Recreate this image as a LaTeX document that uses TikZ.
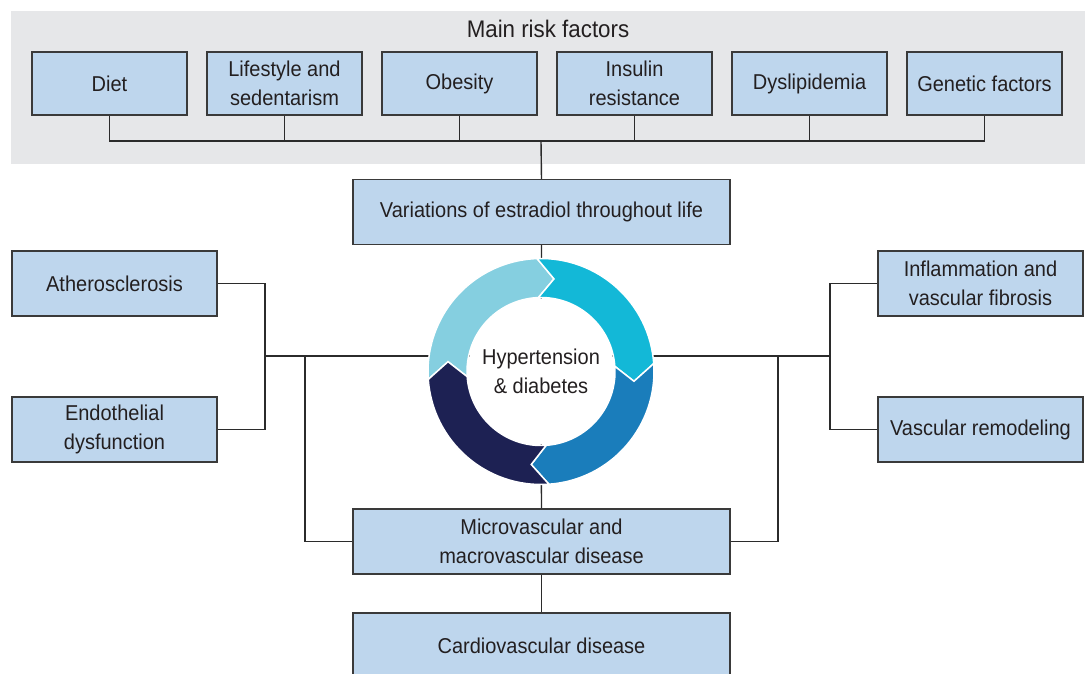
\documentclass[tikz,border=0pt]{standalone}
\usepackage{fontspec}
\setmainfont{Liberation Sans}[FakeStretch=0.93]
\usepackage{tikz}
\usetikzlibrary{positioning}

\definecolor{bggray}{HTML}{E6E7E9}
\definecolor{boxfill}{HTML}{BED6ED}
\definecolor{boxline}{HTML}{3A3A3A}
\definecolor{linkcol}{HTML}{2B2B2B}
\definecolor{txtcol}{HTML}{231F20}
\definecolor{segA}{HTML}{85CFE0}
\definecolor{segB}{HTML}{13B8D7}
\definecolor{segC}{HTML}{1A7DBB}
\definecolor{segD}{HTML}{1D2153}

\begin{document}
\begin{tikzpicture}[x=1pt,y=1pt,node distance=175pt,on grid,
        box/.style={draw=boxline, fill=boxfill, line width=1.1pt, text=txtcol,
            minimum width=155pt, minimum height=63pt, align=center,
            font=\fontsize{21.5}{28.5}\selectfont},
        widebox/.style={box, minimum width=377pt, minimum height=65pt},
        sidebox/.style={box, minimum width=205pt, minimum height=65pt},
        link/.style={draw=linkcol, line width=1.4pt}]
        \useasboundingbox (0,0) rectangle (1085,673);

        % risk factor panel
        \fill[bggray] (11,509) rectangle (1085,662);
        \node[text=txtcol, font=\fontsize{24}{28}\selectfont] (title) at (548,644) {Main risk factors};

        \node[box]  (diet)                      at (109.5,589.5) {Diet};
        \node[box]  (life)   [right=of diet]                     {Lifestyle and\\sedentarism};
        \node[box]  (obes)   [right=of life]                     {Obesity};
        \node[box]  (insul)  [right=of obes]                     {Insulin\\resistance};
        \node[box]  (dysl)   [right=of insul]                    {Dyslipidemia};
        \node[box]  (genet)  [right=of dysl]                     {Genetic factors};

        \node[widebox]  (estr)   at (541.5,461)   {Variations of estradiol throughout life};
        \node[sidebox]  (ather)  at (114.5,389.5) {Atherosclerosis};
        \node[sidebox]  (endo)   at (114.5,243.5) {Endothelial\\dysfunction};
        \node[sidebox]  (infl)   at (980.5,389.5) {Inflammation and\\vascular fibrosis};
        \node[sidebox]  (remod)  at (980.5,243.5) {Vascular remodeling};
        \node[widebox]  (micro)  at (541.5,131.5) {Microvascular and\\macrovascular disease};
        \node[widebox]  (cardio) at (541.5,27.5)  {Cardiovascular disease};

        \coordinate (bus) at (541,532);
        \coordinate (hub) at (541,301.5);
        \coordinate (lj)  at (265,317);
        \coordinate (lv)  at (305,317);
        \coordinate (rj)  at (830,317);
        \coordinate (rv)  at (778,317);

        % connectors
        \draw[link] (diet.south) -- (diet.south |- bus) -- (genet.south |- bus) -- (genet.south);
        \foreach \n in {life,obes,insul,dysl}
            \draw[link] (\n.south) -- (\n.south |- bus);
        \draw[link] (bus) -- (estr.north);
        \draw[link] (estr.south) -- (hub) -- (micro.north);
        \draw[link] (ather.east) -| (lj) |- (endo.east);
        \draw[link] (infl.west) -| (rj) |- (remod.west);
        \draw[link] (lj) -- (rj);
        \draw[link] (lv) |- (micro.west);
        \draw[link] (rv) |- (micro.east);
        \draw[link] (micro.south) -- (cardio.north);

        % cycle of arrows
        \begin{scope}[shift={(hub)}]
            \foreach \s/\e/\c in {184/92/segA, 92/4/segB, 4/-86/segC, -86/-176/segD}
                \filldraw[fill=\c, draw=white, line width=1.5pt, line join=miter]
                    (\s:113) arc[start angle=\s, end angle=\e, radius=113]
                    -- (\e-10:93.5) -- (\e:74)
                    arc[start angle=\e, end angle=\s, radius=74]
                    -- (\s-10:93.5) -- cycle;
            \fill[white] (0,0) circle[radius=73];
        \end{scope}
        \node[text=txtcol, align=center, font=\fontsize{21.5}{28.5}\selectfont] (hyp) at (hub) {Hypertension\\\& diabetes};
    \end{tikzpicture}
\end{document}
